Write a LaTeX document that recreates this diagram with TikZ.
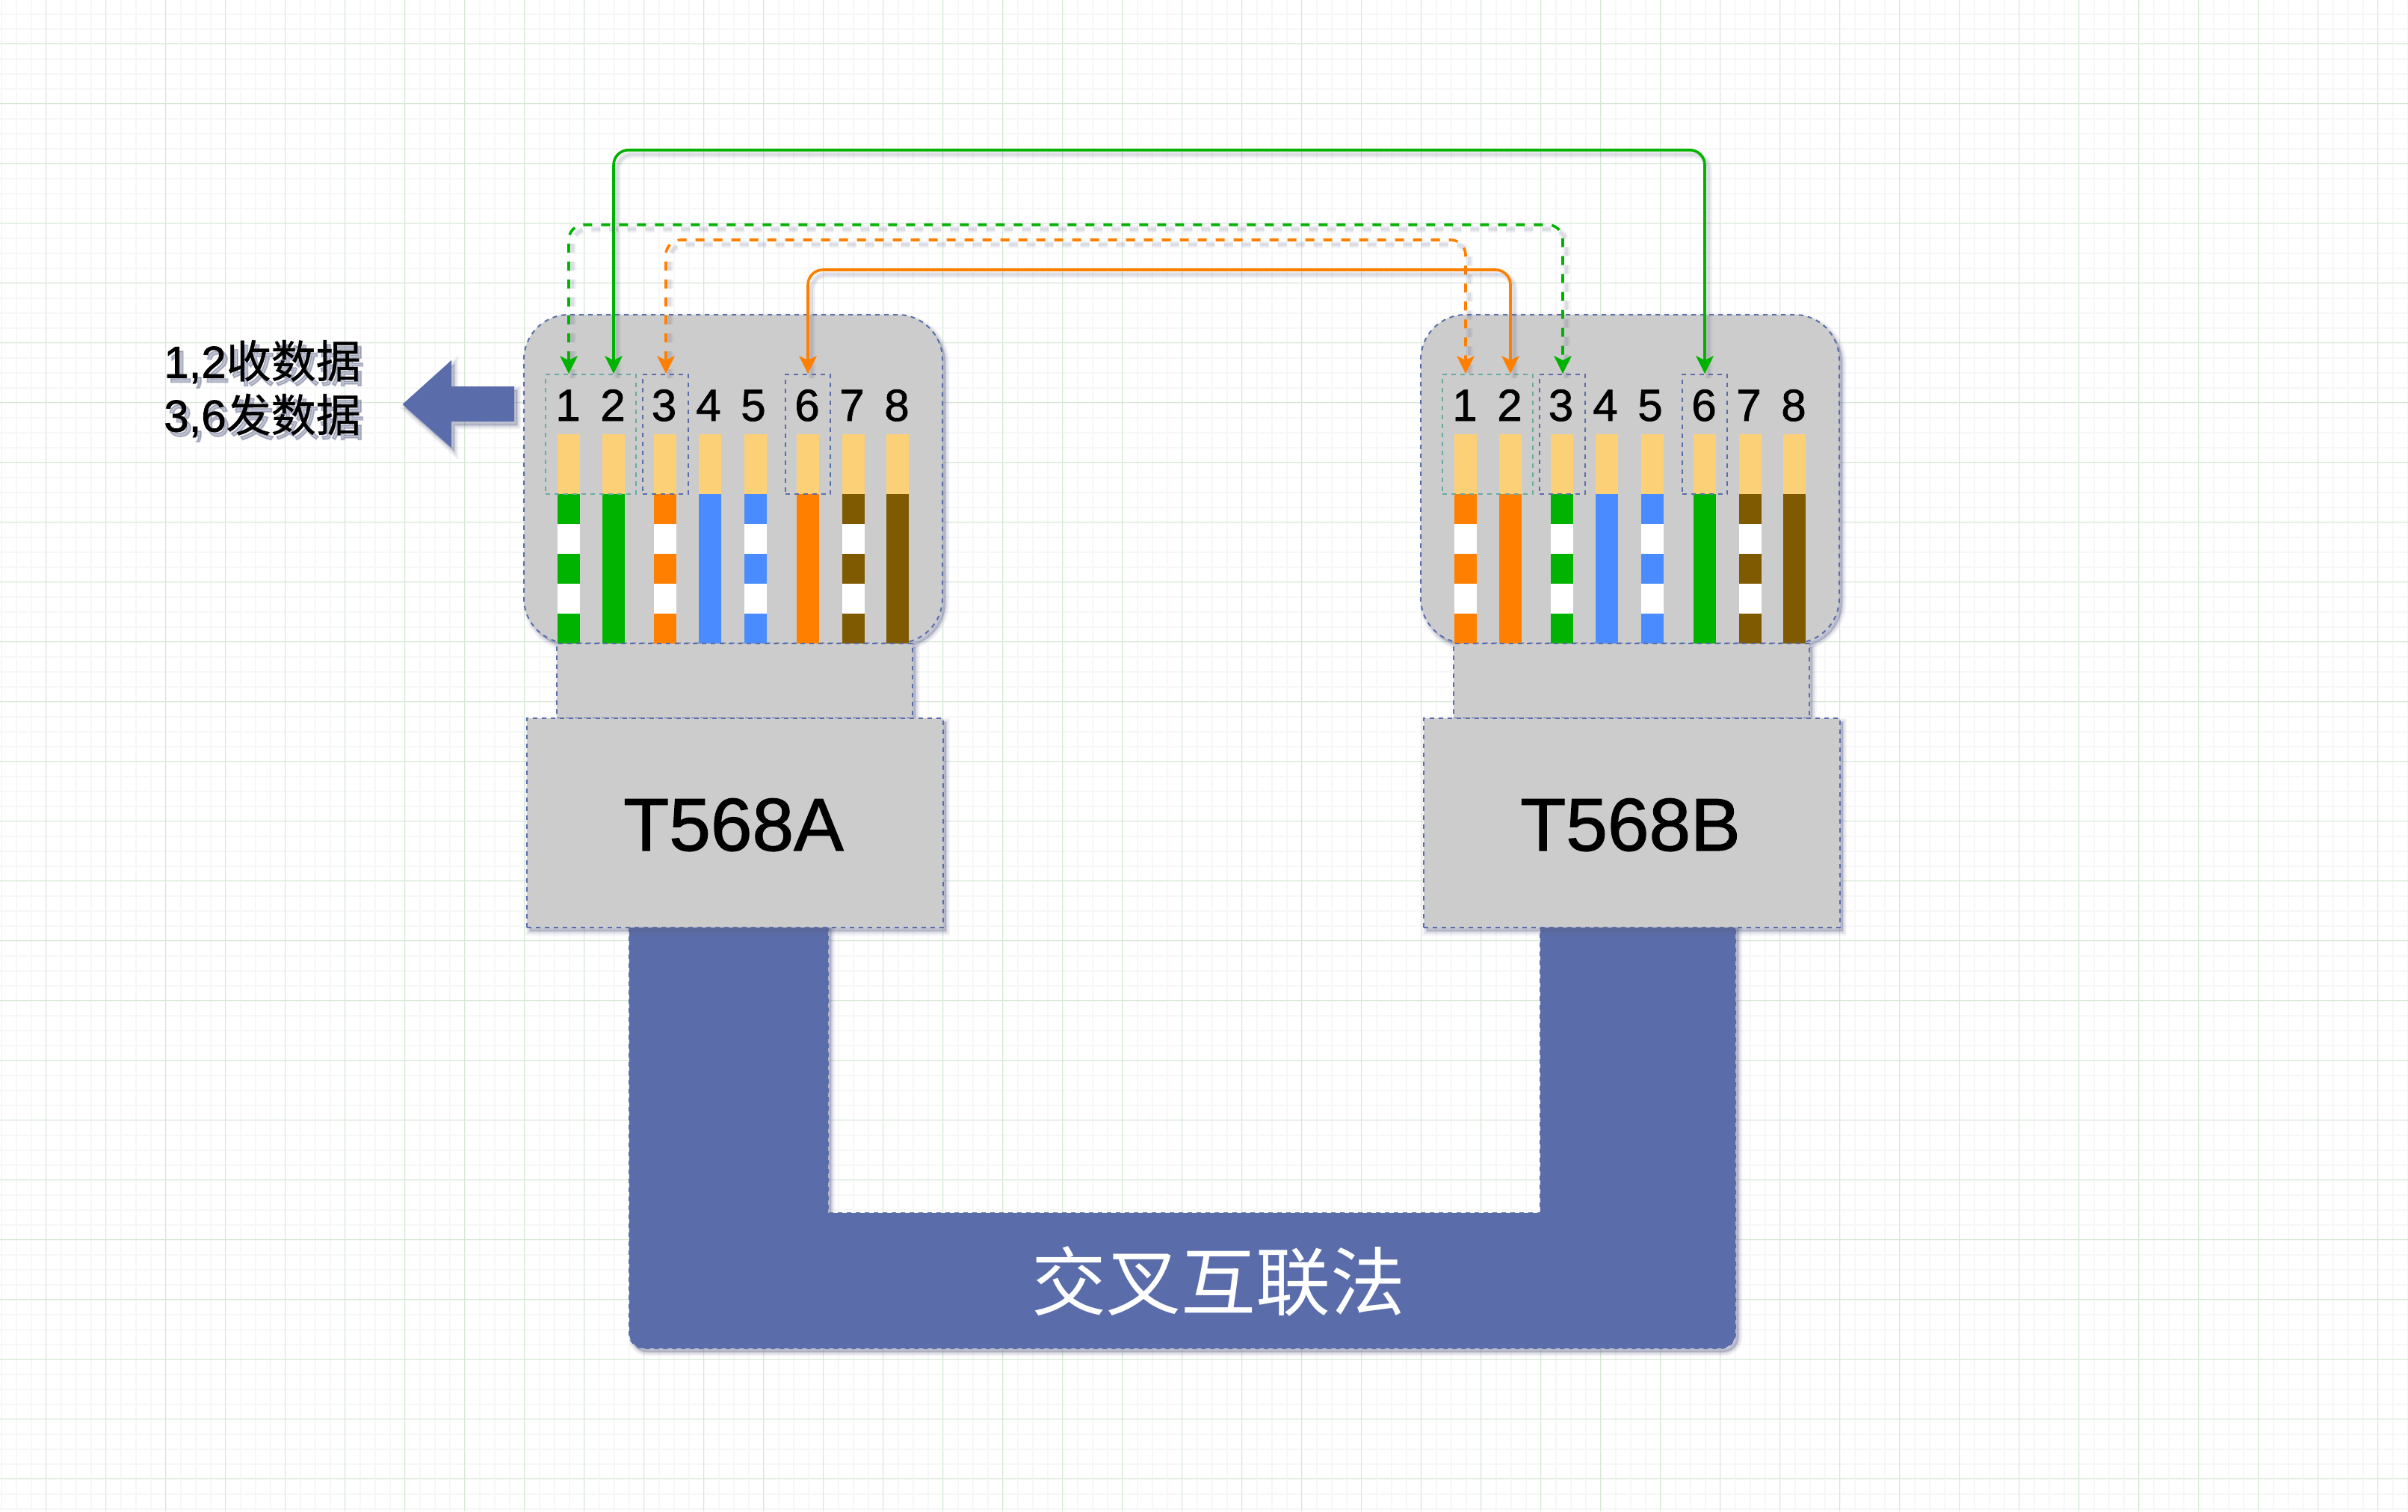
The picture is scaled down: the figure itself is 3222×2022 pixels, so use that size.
\documentclass[tikz,border=0pt]{standalone}
\usepackage{fontspec}
\setmainfont{Liberation Sans}
\newfontfamily\heavy{Liberation Sans}[RawFeature={embolden=1.2}]
\newfontfamily\cjk{Noto Sans CJK SC}
\newfontfamily\heavycjk{Noto Sans CJK SC}[RawFeature={embolden=0.6}]
\newfontfamily\blurlatin{Liberation Sans}[RawFeature={embolden=3}]
\newfontfamily\blurcjk{Noto Sans CJK SC}[RawFeature={embolden=3}]
\usetikzlibrary{arrows.meta}
\definecolor{gridmaj}{HTML}{D5E8D4}
\definecolor{gridmin}{HTML}{F6F7F6}
\definecolor{steel}{HTML}{5A6DAA}
\definecolor{shade}{HTML}{5C6288}
\definecolor{plategrey}{HTML}{CCCCCC}
\definecolor{teal}{HTML}{67AB9F}
\definecolor{wgreen}{HTML}{00B300}
\definecolor{worange}{HTML}{FF8000}
\definecolor{wblue}{HTML}{4A8CFF}
\definecolor{wbrown}{HTML}{7F5A00}
\definecolor{wtan}{HTML}{FCD077}
\tikzset{
  softshadow/.style={
    preaction={draw=shade,fill=shade,solid,line width=11,opacity=.05,transform canvas={shift={(4,5)}}},
    preaction={draw=shade,fill=shade,solid,line width=8,opacity=.07,transform canvas={shift={(4,5)}}},
    preaction={draw=shade,fill=shade,solid,line width=5,opacity=.09,transform canvas={shift={(4,5)}}},
    preaction={draw=shade,fill=shade,solid,line width=2,opacity=.12,transform canvas={shift={(4,5)}}}},
  shell/.style={draw=steel,fill=plategrey,line width=2,dash pattern=on 6pt off 6pt,inner sep=0,outer sep=0,anchor=north west,softshadow},
  cablepart/.style={draw=steel,fill=steel,line width=2,dash pattern=on 6pt off 6pt,softshadow},
  wirepart/.style={draw=none,inner sep=0,outer sep=0,anchor=north west,minimum width=30},
  pinbox/.style={draw=steel,line width=2,dash pattern=on 6pt off 6pt,inner sep=0,outer sep=0,anchor=north west,minimum height=160},
  pinnum/.style={font=\heavy\fontsize{60}{72}\selectfont,text=black,anchor=base,inner sep=0},
  pairline/.style={line width=3.6,rounded corners=20,{Stealth[length=24,width=24,inset=6,line width=0pt]}-{Stealth[length=24,width=24,inset=6,line width=0pt]}},
  pairsolid/.style={pairline,
    preaction={draw=shade,line width=10,opacity=.05,arrows=-,transform canvas={shift={(5,6)}}},
    preaction={draw=shade,line width=7,opacity=.07,arrows=-,transform canvas={shift={(5,6)}}},
    preaction={draw=shade,line width=4,opacity=.10,arrows=-,transform canvas={shift={(5,6)}}}},
  pairdash/.style={pairline,dash pattern=on 12pt off 12pt,
    preaction={draw=shade,line width=10,opacity=.05,arrows=-,dash pattern=on 12pt off 12pt,transform canvas={shift={(5,6)}}},
    preaction={draw=shade,line width=7,opacity=.07,arrows=-,dash pattern=on 12pt off 12pt,transform canvas={shift={(5,6)}}},
    preaction={draw=shade,line width=4,opacity=.10,arrows=-,dash pattern=on 12pt off 12pt,transform canvas={shift={(5,6)}}}}
}
% one wire: prefix, pin, left x, colour
\newcommand{\wirehead}[3]{\node[wirepart,fill=wtan,minimum height=80] (#1tan#2) at (#3,581) {};}
\newcommand{\plainwire}[4]{\wirehead{#1}{#2}{#3}\node[wirepart,fill=#4,minimum height=199.5] (#1w#2) at (#3,661) {};}
\newcommand{\stripewire}[4]{\plainwire{#1}{#2}{#3}{#4}%
  \node[wirepart,fill=white,minimum height=40] (#1s#2a) at (#3,701) {};%
  \node[wirepart,fill=white,minimum height=40] (#1s#2b) at (#3,781) {};}
% plug: prefix, x offset, colour of pair 1-2, colour of pair 3-6, label
\newcommand{\rjplug}[5]{%
\begin{scope}[shift={(#2,0)}]
  \node[shell,rounded corners=60,minimum width=560,minimum height=439.5] (#1body) at (701,421) {};
  \stripewire{#1}{1}{746}{#3}
  \plainwire{#1}{2}{806}{#3}
  \stripewire{#1}{3}{875}{#4}
  \plainwire{#1}{4}{935}{wblue}
  \stripewire{#1}{5}{996}{wblue}
  \plainwire{#1}{6}{1066}{#4}
  \stripewire{#1}{7}{1127}{wbrown}
  \plainwire{#1}{8}{1186}{wbrown}
  \node[shell,minimum width=476,minimum height=100] (#1neck) at (745,861) {};
  \node[shell,minimum width=557,minimum height=280] (#1plate) at (704.5,961) {};
  \node[anchor=base,inner sep=0,font=\heavy\fontsize{100}{120}\selectfont] (#1label) at (981.5,1138) {#5};
  \node[pinnum] (#1n1) at (760,563) {1};
  \node[pinnum] (#1n2) at (820,563) {2};
  \node[pinnum] (#1n3) at (888.5,563) {3};
  \node[pinnum] (#1n4) at (948,563) {4};
  \node[pinnum] (#1n5) at (1008,563) {5};
  \node[pinnum] (#1n6) at (1080,563) {6};
  \node[pinnum] (#1n7) at (1140,563) {7};
  \node[pinnum] (#1n8) at (1200,563) {8};
  \node[pinbox,draw=teal,minimum width=121] (#1box12) at (730,501) {};
  \node[pinbox,minimum width=61] (#1box3) at (860,501) {};
  \node[pinbox,minimum width=60.5] (#1box6) at (1050.5,501) {};
  \coordinate (#1p1) at (761,500);
  \coordinate (#1p2) at (821,500);
  \coordinate (#1p3) at (891,500);
  \coordinate (#1p6) at (1081,500);
\end{scope}}
\begin{document}
\begin{tikzpicture}[x=1pt,y=-1pt]
\useasboundingbox (0,0) rectangle (3222,2022);
\fill[white] (0,0) rectangle (3222,2022);
% background grid
\foreach \k in {0,...,161} {\draw[gridmin,line width=2] ({1.5+20*\k},0) -- ({1.5+20*\k},2022);}
\foreach \k in {0,...,101} {\draw[gridmin,line width=2] (0,{18.5+20*\k}) -- (3222,{18.5+20*\k});}
\foreach \k in {0,...,39} {\draw[gridmaj,line width=1.2] ({61.5+80*\k},0) -- ({61.5+80*\k},2022);}
\foreach \k in {0,...,24} {\draw[gridmaj,line width=1.2] (0,{58.5+80*\k}) -- (3222,{58.5+80*\k});}
% cable, one U-shaped piece so that its shadow never falls on itself
\draw[cablepart] (842,1230) -- (1108,1230) -- (1108,1623) -- (2061,1623) -- (2061,1230) -- (2322,1230)
  [rounded corners=20] -- (2322,1804) -- (842,1804) [sharp corners] -- (842,1230) -- cycle;
\node[inner sep=0,text=white,font=\cjk\fontsize{100}{120}\selectfont] (barlabel) at (1630,1714) {交叉互联法};
% plugs
\rjplug{a}{0}{wgreen}{worange}{T568A}
\rjplug{b}{1200}{worange}{wgreen}{T568B}
% crossed pairs
\coordinate (busg) at (1500,200.7);
\coordinate (busgd) at (1500,300.7);
\coordinate (busod) at (1500,321);
\coordinate (buso) at (1500,361);
\draw[pairsolid,color=wgreen] (ap2) |- (busg) -| (bp6);
\draw[pairdash,color=wgreen] (ap1) |- (busgd) -| (bp3);
\draw[pairdash,color=worange] (ap3) |- (busod) -| (bp1);
\draw[pairsolid,color=worange] (ap6) |- (buso) -| (bp2);
% note arrow
\draw[draw=none,fill=steel,softshadow] (688,517) -- (604,517) -- (604,482) -- (538.5,541) -- (604,599) -- (604,564) -- (688,564) -- cycle;
% note text
\node[inner sep=0,align=center,text=shade,opacity=.38,font=\fontsize{60}{72}\selectfont] (noteshadow) at (356,526) {{\blurlatin 1,2}{\blurcjk 收数据}\\{\blurlatin 3,6}{\blurcjk 发数据}};
\node[inner sep=0,align=center,font=\fontsize{60}{72}\selectfont] (note) at (351,520) {{\heavy 1,2}{\heavycjk 收数据}\\{\heavy 3,6}{\heavycjk 发数据}};
\end{tikzpicture}
\end{document}
